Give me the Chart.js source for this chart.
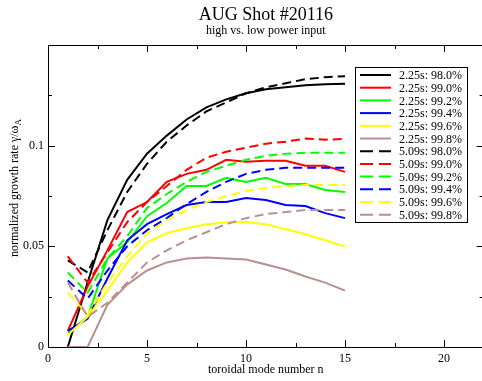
<!DOCTYPE html>
<html>
<head>
<meta charset="utf-8">
<script src="https://cdn.jsdelivr.net/npm/chart.js@4.4.1/dist/chart.umd.min.js"></script>
<style>
  html, body { margin: 0; padding: 0; background: #fff; overflow: hidden; }
  #wrap { width: 482px; height: 381px; overflow: hidden; position: relative; }
  canvas { display: block; }
</style>
</head>
<body>
<div id="wrap"><canvas id="chart" width="500" height="381"></canvas></div>
<script>
// toroidal mode numbers
const modeN = [1, 2, 3, 4, 5, 6, 7, 8, 9, 10, 11, 12, 13, 14, 15];

// 2.25s (solid)
const t225_980 = [0.000, 0.032, 0.063, 0.083, 0.096, 0.105, 0.113, 0.119, 0.123, 0.126, 0.128, 0.129, 0.130, 0.1305, 0.1308];
const t225_990 = [0.008, 0.030, 0.048, 0.067, 0.072, 0.082, 0.086, 0.088, 0.093, 0.092, 0.0925, 0.0925, 0.090, 0.090, 0.087];
const t225_992 = [0.007, 0.015, 0.044, 0.052, 0.065, 0.0715, 0.080, 0.080, 0.084, 0.082, 0.084, 0.081, 0.081, 0.078, 0.077];
const t225_994 = [0.008, 0.014, 0.034, 0.053, 0.061, 0.066, 0.0705, 0.072, 0.072, 0.074, 0.073, 0.0705, 0.070, 0.0665, 0.064];
const t225_996 = [0.006, 0.015, 0.028, 0.042, 0.052, 0.0565, 0.059, 0.061, 0.062, 0.062, 0.061, 0.0585, 0.056, 0.053, 0.050];
const t225_998 = [0.000, 0.000, 0.021, 0.031, 0.038, 0.042, 0.044, 0.0445, 0.044, 0.0435, 0.041, 0.0385, 0.035, 0.032, 0.028];

// 5.09s (dashed)
const t509_980 = [0.043, 0.037, 0.058, 0.077, 0.091, 0.102, 0.110, 0.117, 0.1215, 0.126, 0.129, 0.131, 0.133, 0.134, 0.1345];
const t509_990 = [0.045, 0.032, 0.047, 0.062, 0.072, 0.080, 0.088, 0.094, 0.097, 0.099, 0.101, 0.102, 0.1035, 0.103, 0.1033];
const t509_992 = [0.037, 0.027, 0.044, 0.055, 0.069, 0.076, 0.082, 0.087, 0.090, 0.093, 0.095, 0.096, 0.0965, 0.0965, 0.0965];
const t509_994 = [0.033, 0.024, 0.038, 0.050, 0.058, 0.064, 0.071, 0.077, 0.082, 0.086, 0.088, 0.089, 0.089, 0.089, 0.089];
const t509_996 = [0.027, 0.016, 0.032, 0.045, 0.0565, 0.063, 0.068, 0.072, 0.075, 0.0775, 0.079, 0.080, 0.0805, 0.0805, 0.0805];
const t509_998 = [0.032, 0.015, 0.022, 0.032, 0.042, 0.048, 0.053, 0.057, 0.061, 0.064, 0.066, 0.067, 0.068, 0.068, 0.068];

const seriesLabels = [
  "2.25s: 98.0%", "2.25s: 99.0%", "2.25s: 99.2%", "2.25s: 99.4%", "2.25s: 99.6%", "2.25s: 99.8%",
  "5.09s: 98.0%", "5.09s: 99.0%", "5.09s: 99.2%", "5.09s: 99.4%", "5.09s: 99.6%", "5.09s: 99.8%"
];
const seriesValues = [t225_980, t225_990, t225_992, t225_994, t225_996, t225_998,
                      t509_980, t509_990, t509_992, t509_994, t509_996, t509_998];
const palette = ["#000000", "#ff0000", "#00ff00", "#0000ff", "#ffff00", "#bc8f8f"];

const xTicks = [0, 5, 10, 15, 20];
const yTicks = [0, 0.05, 0.1];

const SERIF = "'Liberation Serif', 'DejaVu Serif', serif";
const DASH = [9, 5];

const datasets = seriesValues.map((vals, i) => ({
  label: seriesLabels[i],
  data: modeN.map((n, k) => ({ x: n, y: vals[k] })),
  borderColor: palette[i % 6],
  borderWidth: 2,
  borderDash: i >= 6 ? DASH : [],
  pointRadius: 0,
  tension: 0,
  fill: false,
  order: 12 - i
}));

// frame, inward ticks, titles, legend
const gracePlugin = {
  id: "grace",
  afterDraw(chart) {
    const { ctx, chartArea: a, scales } = chart;
    const xs = scales.x, ys = scales.y;
    ctx.save();
    ctx.strokeStyle = "#000";
    ctx.lineWidth = 1;
    ctx.strokeRect(Math.round(a.left) + 0.5, Math.round(a.top) + 0.5, a.right - a.left, a.bottom - a.top);

    ctx.beginPath();
    for (let v = 0; v <= xs.max; v += 2.5) {
      const px = Math.round(xs.getPixelForValue(v)) + 0.5;
      const len = (v % 5 === 0) ? 7 : 4;
      ctx.moveTo(px, a.bottom); ctx.lineTo(px, a.bottom - len);
      ctx.moveTo(px, a.top); ctx.lineTo(px, a.top + len);
    }
    for (let k = 0; k <= 6; k++) {
      const v = k * 0.025;
      const py = Math.round(ys.getPixelForValue(v)) + 0.5;
      const len = (k % 2 === 0) ? 7 : 4;
      ctx.moveTo(a.left, py); ctx.lineTo(a.left + len, py);
      ctx.moveTo(a.right, py); ctx.lineTo(a.right - len, py);
    }
    ctx.stroke();

    // titles, centred on plot area
    const cx = (a.left + a.right) / 2;
    ctx.fillStyle = "#000";
    ctx.textAlign = "center";
    ctx.textBaseline = "alphabetic";
    ctx.font = "18px " + SERIF;
    ctx.fillText("AUG Shot #20116", cx, 20);
    ctx.font = "12px " + SERIF;
    ctx.fillText("high vs. low power input", cx, 34);
    ctx.fillText("toroidal mode number n", cx, 373);

    // y axis title with subscript A
    ctx.save();
    ctx.translate(18, (a.top + a.bottom) / 2 - 8);
    ctx.rotate(-Math.PI / 2);
    const main = "normalized growth rate \u03b3/\u03c9";
    ctx.font = "12px " + SERIF;
    const w1 = ctx.measureText(main).width;
    ctx.font = "9px " + SERIF;
    const w2 = ctx.measureText("A").width;
    const start = -(w1 + w2) / 2;
    ctx.textAlign = "left";
    ctx.font = "12px " + SERIF;
    ctx.fillText(main, start, 0);
    ctx.font = "9px " + SERIF;
    ctx.fillText("A", start + w1, 3);
    ctx.restore();

    // legend
    const lx = 355, ly = 67, lw = 112, lh = 155;
    ctx.fillStyle = "#fff";
    ctx.fillRect(lx, ly, lw, lh);
    ctx.strokeStyle = "#000";
    ctx.lineWidth = 1;
    ctx.strokeRect(lx + 0.5, ly + 0.5, lw, lh);
    ctx.font = "12px " + SERIF;
    ctx.textAlign = "left";
    ctx.textBaseline = "middle";
    chart.data.datasets.forEach((ds, i) => {
      const y = 75 + i * 12.7;
      ctx.strokeStyle = ds.borderColor;
      ctx.lineWidth = 2;
      ctx.setLineDash(ds.borderDash.length ? [13, 6] : []);
      ctx.beginPath();
      ctx.moveTo(360, y); ctx.lineTo(391, y);
      ctx.stroke();
      ctx.setLineDash([]);
      ctx.fillStyle = "#000";
      ctx.fillText(ds.label, 399, y + 1);
    });
    ctx.restore();
  }
};

new Chart(document.getElementById("chart"), {
  type: "line",
  data: { datasets },
  options: {
    responsive: false,
    animation: false,
    devicePixelRatio: 1,
    layout: { padding: { top: 45, right: 16.4, left: 0, bottom: 0 } },
    plugins: { legend: { display: false }, tooltip: { enabled: false }, title: { display: false } },
    scales: {
      x: {
        type: "linear", min: 0, max: 22,
        grid: { display: false, drawTicks: false },
        border: { display: false },
        afterFit: s => { s.height = 34; },
        afterBuildTicks: s => { s.ticks = xTicks.map(v => ({ value: v })); },
        ticks: { color: "#000", padding: 5, font: { family: SERIF, size: 12 }, callback: v => String(v) }
      },
      y: {
        type: "linear", min: 0, max: 0.15,
        grid: { display: false, drawTicks: false },
        border: { display: false },
        afterFit: s => { s.width = 48; },
        afterBuildTicks: s => { s.ticks = yTicks.map(v => ({ value: v })); },
        ticks: { color: "#000", padding: 4, font: { family: SERIF, size: 12 }, callback: v => String(+v.toFixed(2)) }
      }
    }
  },
  plugins: [gracePlugin]
});
</script>
</body>
</html>
